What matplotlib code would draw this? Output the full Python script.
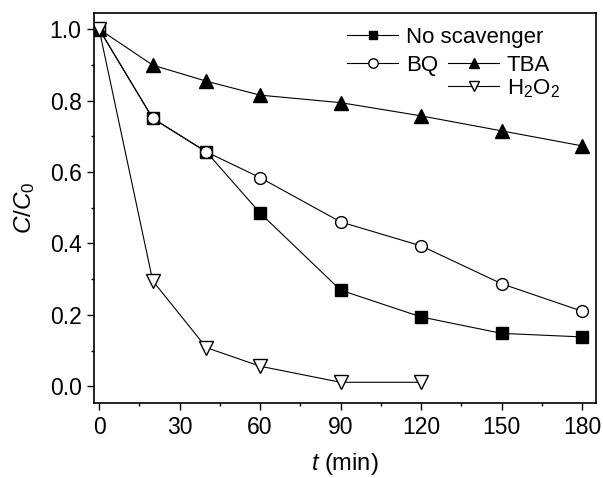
import numpy as np
import matplotlib
matplotlib.use("Agg")
import matplotlib.pyplot as plt
from matplotlib.lines import Line2D

plt.rcParams['font.family'] = ['Liberation Sans', 'DejaVu Sans']
plt.rcParams['mathtext.fontset'] = 'custom'
plt.rcParams['mathtext.rm'] = 'Liberation Sans'
plt.rcParams['mathtext.it'] = 'Liberation Sans:italic'

# sampling times (min)
t_all = [0, 20, 40, 60, 90, 120, 150, 180]
t_h2o2 = [0, 20, 40, 60, 90, 120]

# C/C0 for each scavenger run
no_scav = [1.0, 0.75, 0.656, 0.485, 0.269, 0.194, 0.148, 0.138]
bq = [1.0, 0.75, 0.656, 0.584, 0.46, 0.393, 0.287, 0.21]
tba = [1.0, 0.899, 0.854, 0.815, 0.794, 0.757, 0.715, 0.673]
h2o2 = [1.0, 0.295, 0.108, 0.056, 0.011, 0.011]

xticks = [0, 30, 60, 90, 120, 150, 180]
yticks = [0.0, 0.2, 0.4, 0.6, 0.8, 1.0]

fig = plt.figure(figsize=(6.03, 4.78), dpi=100)
ax = fig.add_axes([94/603, 1-403/478, 502/603, 390/478])

lw = 0.8
l1, = ax.plot(t_all, no_scav, 'k-', lw=lw, marker='s', ms=8, mfc='k', mec='k', label='No scavenger')
l2, = ax.plot(t_all, bq, 'k-', lw=lw, marker='o', ms=8.5, mfc='white', mec='k', mew=1.0, label='BQ')
l3, = ax.plot(t_all, tba, 'k-', lw=lw, marker='^', ms=9.5, mfc='k', mec='k', label='TBA')
l4, = ax.plot(t_h2o2, h2o2, 'k-', lw=lw, marker='v', ms=9.5, mfc='white', mec='k', mew=1.0, label='H$_2$O$_2$')

ax.set_xlim(-1.9, 185.2)
ax.set_ylim(-0.047, 1.045)
ax.set_xticks(xticks)
ax.set_yticks(yticks)
ax.set_xticks(np.arange(15, 180, 30), minor=True)
ax.set_yticks(np.arange(0.1, 1.0, 0.2), minor=True)
ax.tick_params(which='both', direction='out', top=False, right=False, labelsize=16.5, width=1.0)
ax.tick_params(which='major', length=5, pad=4)
ax.tick_params(which='minor', length=2.5)
for s in ax.spines.values():
    s.set_linewidth(1.2)

ax.set_xlabel(r'$t$ (min)', fontsize=17, labelpad=9)
ax.set_ylabel(r'$C$/$C_{\mathrm{0}}$', fontsize=17.5, labelpad=9)

leg_kw = dict(frameon=False, fontsize=16, handlelength=2.3, handletextpad=0.35,
              borderpad=0, borderaxespad=0, labelspacing=0.05, loc='upper left',
              markerscale=0.8)
leg1 = ax.legend(handles=[l1], bbox_to_anchor=((347-94)/502, (403-27)/390), **leg_kw)
ax.add_artist(leg1)
blank = Line2D([], [], lw=0, marker=None, label=' ')
ax.legend(handles=[l2, blank, l3, l4], ncol=2, columnspacing=0.45,
          bbox_to_anchor=((347-94)/502, (403-55)/390), **leg_kw)

fig.savefig('out.png', dpi=100)
